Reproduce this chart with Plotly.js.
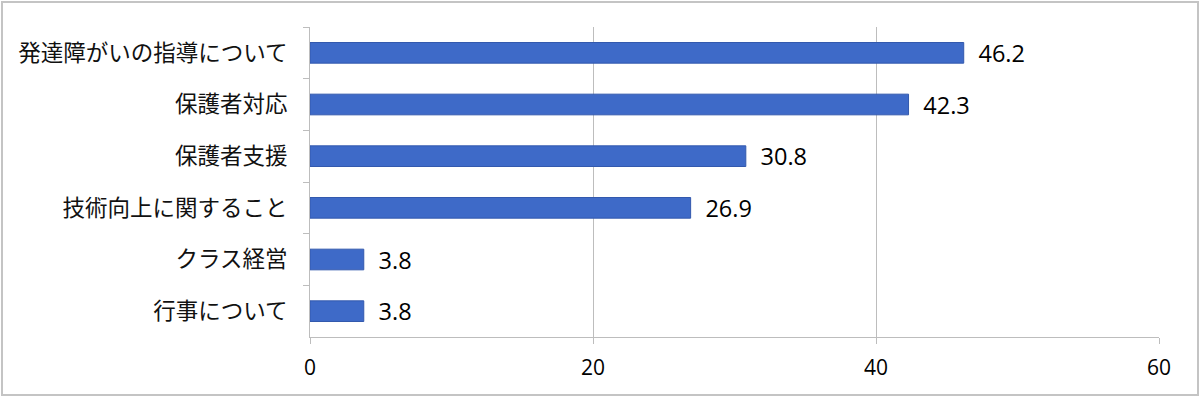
<!DOCTYPE html>
<html><head><meta charset="utf-8">
<script src="https://cdn.plot.ly/plotly-3.0.1.min.js"></script>
<style>
body{margin:0;background:#fff;}
#wrap{position:relative;width:1200px;height:398px;}
#chart{width:1200px;height:398px;}
#frame{position:absolute;left:1px;top:1px;width:1194px;height:391px;border:2px solid #c4c4c4;pointer-events:none;}
</style></head>
<body>
<div id="wrap"><div id="chart"></div><div id="frame"></div></div>
<script>
const categories = ["発達障がいの指導について","保護者対応","保護者支援","技術向上に関すること","クラス経営","行事について"];
const values = [46.2, 42.3, 30.8, 26.9, 3.8, 3.8];
const xTicks = [0, 20, 40, 60];

const trace = {
  type: 'bar',
  orientation: 'h',
  y: categories,
  x: values,
  text: values.map(v => '\u2002' + v.toFixed(1)),
  textposition: 'outside',
  constraintext: 'none',
  cliponaxis: false,
  textfont: {family: 'Open Sans, Liberation Sans, sans-serif', size: 23.5, color: '#000'},
  marker: {color: '#3e6ac8', line: {color: '#3359ad', width: 1}},
  hoverinfo: 'none'
};

const layout = {
  width: 1200, height: 398,
  margin: {l: 310, r: 41, t: 27, b: 61},
  paper_bgcolor: '#fff', plot_bgcolor: '#fff',
  font: {family: 'Open Sans, Liberation Sans, sans-serif', size: 19, color: '#000'},
  bargap: 0.6,
  showlegend: false,
  xaxis: {
    range: [0, 60], tickmode: 'array', tickvals: xTicks, ticktext: xTicks.map(String),
    showgrid: true, gridcolor: '#bdbdbd', gridwidth: 1,
    zeroline: false, showline: true, linecolor: '#bdbdbd', linewidth: 1,
    ticks: 'outside', ticklen: 12, tickcolor: 'rgba(0,0,0,0)',
    minor: {tickvals: xTicks, ticks: 'outside', ticklen: 6, tickcolor: '#bdbdbd', showgrid: false},
    tickfont: {size: 21, color: '#000'},
    fixedrange: true
  },
  yaxis: {
    type: 'category', autorange: 'reversed',
    showline: true, linecolor: '#bdbdbd', linewidth: 1,
    ticks: 'outside', ticklen: 6, tickcolor: '#bdbdbd', tickson: 'boundaries',
    showgrid: false,
    ticklabelstandoff: 17,
    tickfont: {family: 'Noto Sans CJK JP, sans-serif', size: 22.5, color: '#111'},
    fixedrange: true
  }
};

Plotly.newPlot('chart', [trace], layout, {displayModeBar: false, staticPlot: true});
</script>
</body></html>
